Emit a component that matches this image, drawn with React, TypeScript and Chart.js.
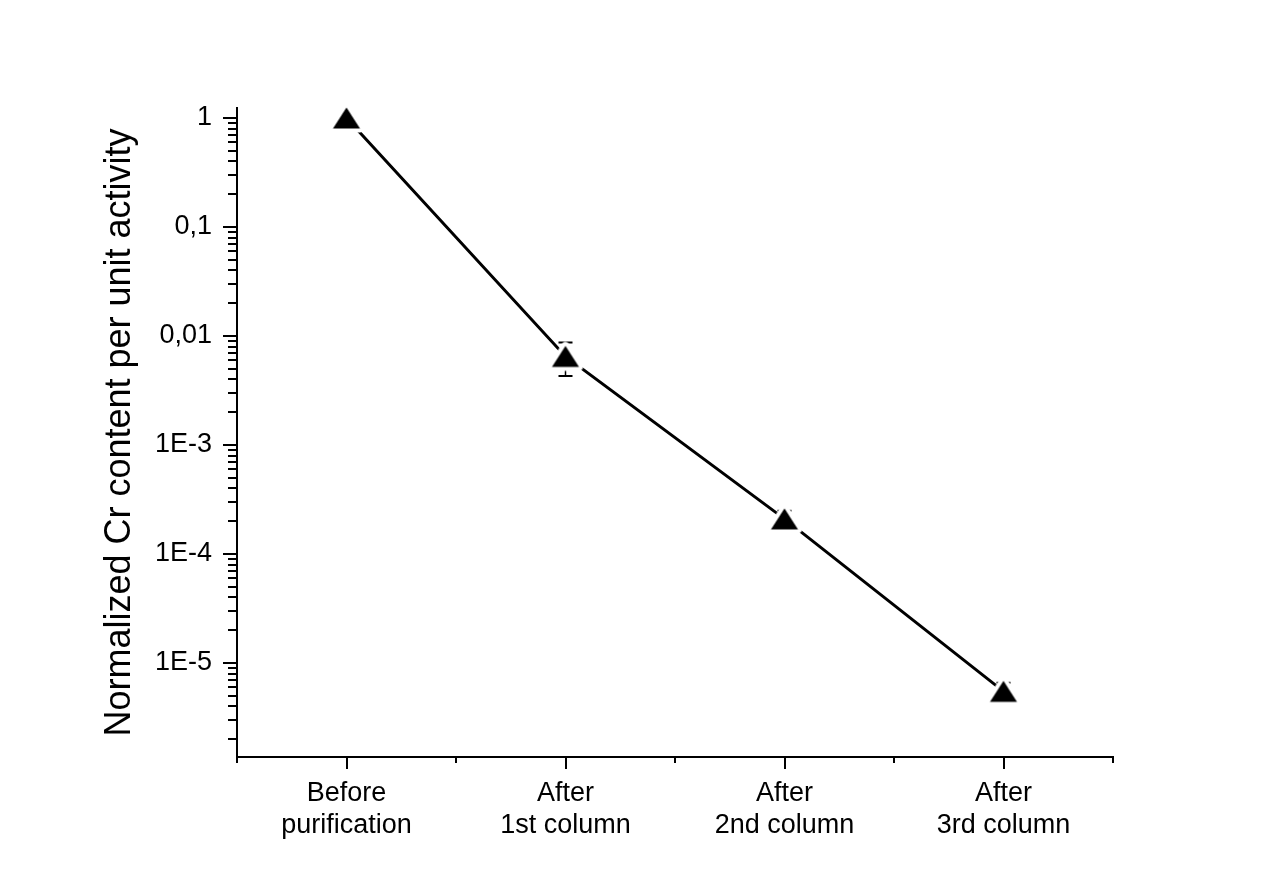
import React, { useEffect, useRef } from 'react';
import { Chart, registerables } from 'chart.js';

Chart.register(...registerables);

const categories = [
  ['Before', 'purification'],
  ['After', '1st column'],
  ['After', '2nd column'],
  ['After', '3rd column'],
];
const values = [1, 0.0065, 0.00021, 0.0000055];
const errors = [0, 0.0022, 0.00004, 0.0000011];
const yTickValues = [1, 0.1, 0.01, 0.001, 0.0001, 0.00001];
const yTickLabels = ['1', '0,1', '0,01', '1E-3', '1E-4', '1E-5'];
const yMin = 1.374e-6;
const yMax = 1.235;
const yTitle = 'Normalized Cr content per unit activity';

const FONT = '"Liberation Sans", Arial, sans-serif';

function makeMarker(): HTMLCanvasElement {
  const c = document.createElement('canvas');
  c.width = 44;
  c.height = 44;
  const g = c.getContext('2d')!;
  const cx = 22, cy = 22, hw = 13.5, hh = 10.5;
  g.beginPath();
  g.moveTo(cx, cy - hh);
  g.lineTo(cx + hw, cy + hh);
  g.lineTo(cx - hw, cy + hh);
  g.closePath();
  g.lineJoin = 'round';
  g.lineWidth = 8;
  g.strokeStyle = '#ffffff';
  g.stroke();
  g.fillStyle = '#000000';
  g.fill();
  return c;
}

const axisTicksPlugin = {
  id: 'axisTicks',
  afterDraw(chart: any) {
    const ctx = chart.ctx;
    const ys = chart.scales.y;
    const xs = chart.scales.x;
    const { left, bottom } = chart.chartArea;
    ctx.save();
    ctx.strokeStyle = '#000';
    ctx.lineWidth = 2;
    const lo = Math.floor(Math.log10(ys.min));
    const hi = Math.ceil(Math.log10(ys.max));
    for (let e = lo; e <= hi; e++) {
      for (let m = 1; m <= 9; m++) {
        const v = m * Math.pow(10, e);
        if (v < ys.min || v > ys.max) continue;
        const py = Math.round(ys.getPixelForValue(v));
        const len = m === 1 ? 14 : 9;
        ctx.beginPath();
        ctx.moveTo(left - len, py);
        ctx.lineTo(left, py);
        ctx.stroke();
      }
    }
    for (let i = 0; i <= categories.length; i++) {
      const px = Math.round(xs.getPixelForValue(i - 0.5));
      ctx.beginPath();
      ctx.moveTo(px, bottom);
      ctx.lineTo(px, bottom + 6);
      ctx.stroke();
    }
    for (let i = 0; i < categories.length; i++) {
      const px = Math.round(xs.getPixelForValue(i));
      ctx.beginPath();
      ctx.moveTo(px, bottom);
      ctx.lineTo(px, bottom + 12);
      ctx.stroke();
    }
    ctx.restore();
  },
};

const errorBarPlugin = {
  id: 'errorBars',
  beforeDatasetsDraw(chart: any) {
    const ctx = chart.ctx;
    const ys = chart.scales.y;
    const xs = chart.scales.x;
    ctx.save();
    ctx.strokeStyle = '#000';
    for (let i = 0; i < values.length; i++) {
      if (!errors[i]) continue;
      const px = xs.getPixelForValue(i);
      const top = ys.getPixelForValue(values[i] + errors[i]);
      const bot = ys.getPixelForValue(values[i] - errors[i]);
      ctx.lineWidth = 1.5;
      ctx.beginPath();
      ctx.moveTo(px, top);
      ctx.lineTo(px, bot);
      ctx.stroke();
      ctx.lineWidth = 2;
      ctx.beginPath();
      ctx.moveTo(px - 7, top);
      ctx.lineTo(px + 7, top);
      ctx.moveTo(px - 7, bot);
      ctx.lineTo(px + 7, bot);
      ctx.stroke();
    }
    ctx.restore();
  },
};

export default function App() {
  const ref = useRef<HTMLCanvasElement>(null);
  useEffect(() => {
    if (!ref.current) return;
    Chart.defaults.font.family = FONT;
    Chart.defaults.color = '#000';
    const marker = makeMarker();
    const chart = new Chart(ref.current, {
      type: 'line',
      data: {
        labels: categories as any,
        datasets: [
          {
            data: values,
            borderColor: '#000',
            borderWidth: 3,
            tension: 0,
            pointStyle: marker as any,
            pointRadius: 12,
            pointHoverRadius: 12,
            clip: false as any,
          },
        ],
      },
      options: {
        animation: false,
        responsive: false,
        events: [],
        layout: { padding: { top: 108, right: 163, left: 0, bottom: 0 } },
        plugins: { legend: { display: false }, tooltip: { enabled: false } },
        scales: {
          x: {
            type: 'category',
            offset: true,
            grid: { display: false, drawTicks: false },
            border: { display: true, color: '#000', width: 2 },
            ticks: {
              autoSkip: false,
              maxRotation: 0,
              minRotation: 0,
              padding: 21,
              color: '#000',
              font: { size: 27, family: FONT, lineHeight: 1.18 },
            },
            afterFit: (s: any) => {
              s.height = 139;
            },
          },
          y: {
            type: 'logarithmic',
            min: yMin,
            max: yMax,
            bounds: 'data',
            grid: { display: false, drawTicks: false },
            border: { display: true, color: '#000', width: 2 },
            ticks: {
              autoSkip: false,
              padding: 25,
              color: '#000',
              font: { size: 27, family: FONT },
              callback: (val: any) => {
                const v = Number(val);
                const i = yTickValues.findIndex((t) => Math.abs(t - v) / t < 1e-6);
                return i >= 0 ? yTickLabels[i] : '';
              },
            },
            afterBuildTicks: (s: any) => {
              s.ticks = yTickValues.map((v) => ({ value: v }));
            },
            title: {
              display: true,
              text: yTitle,
              color: '#000',
              font: { size: 36, family: FONT, lineHeight: 1.2 },
              padding: { top: 98, bottom: 0 },
            },
            afterFit: (s: any) => {
              s.width = 237;
            },
          },
        },
      },
      plugins: [axisTicksPlugin, errorBarPlugin],
    });
    return () => chart.destroy();
  }, []);
  return (
    <div style={{ position: 'absolute', left: 0, top: 0, width: 1276, height: 896, background: '#fff' }}>
      <canvas ref={ref} width={1276} height={896} style={{ display: 'block' }} />
    </div>
  );
}
